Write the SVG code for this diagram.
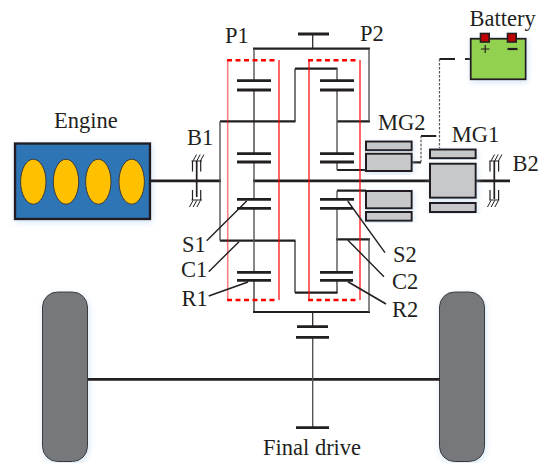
<svg xmlns="http://www.w3.org/2000/svg" width="544" height="463" viewBox="0 0 544 463">
<defs>
<filter id="glow" x="-20%" y="-20%" width="140%" height="140%"><feDropShadow dx="1" dy="2" stdDeviation="3" flood-color="#9dc3e6" flood-opacity="0.45"/></filter>
</defs>
<style>
text{font-family:"Liberation Serif","Times New Roman",serif;font-size:22.5px;fill:#231f20}
.s{fill:none;stroke:#231f20;stroke-width:2.2}
.g{fill:none;stroke:#231f20;stroke-width:2.8}
.t{fill:none;stroke:#231f20;stroke-width:1.2}
.b{fill:none;stroke:#231f20;stroke-width:1}
.c{fill:none;stroke:#231f20;stroke-width:1.7}
.m{fill:none;stroke:#555;stroke-width:1.4}
.red{fill:none;stroke:#f00;stroke-width:1.2}
.redd{fill:none;stroke:#f00;stroke-width:2.4;stroke-dasharray:5 3.5}
.motor{fill:#c7c8ca;stroke:#231f20;stroke-width:2}
.wheel{fill:#77787b;stroke:#3a3a3c;stroke-width:1;filter:url(#glow)}
.d{fill:none;stroke:#555;stroke-width:1.2;stroke-dasharray:2.5 1.5}
.l{fill:none;stroke:#231f20;stroke-width:1.4}
</style>
<rect width="544" height="463" fill="#fff"/>
<g id="wheels">
<rect id="wheel-left" class="wheel" x="42.5" y="292" width="45" height="169.5" rx="15"/>
<rect id="wheel-right" class="wheel" x="439.5" y="292" width="45" height="169.5" rx="15"/>
</g>
<g id="engine">
<rect x="15" y="143.5" width="135" height="75.5" fill="#2e75b6" stroke="#231f20" stroke-width="2.4" filter="url(#glow)"/>
<g fill="#ffc000" stroke="#3a3a3c" stroke-width="1">
<ellipse cx="33.3" cy="181.7" rx="12.7" ry="22.5"/>
<ellipse cx="66" cy="181.7" rx="12.7" ry="22.5"/>
<ellipse cx="98.3" cy="181.7" rx="12.7" ry="22.5"/>
<ellipse cx="131.7" cy="181.7" rx="12.7" ry="22.5"/>
</g>
<text x="54" y="128">Engine</text>
</g>
<g id="connectors">
<path class="g" d="M150 180.8H221M253 180.8H510M88 379.3H440"/>
<path class="s" d="M253 48.7H370M295 68.7H337.5M220 121.3H295.5M337 121.3H370M337 170H366M337 190.7H366M220 240.7H295.5M336 239.3H370M295 292.7H337.5M253 312H370"/>
<path class="m" d="M254 48.7V80.7M254 162V180.8M254 180.8V199M254 208V272M369 48.7V121.3M369 239.3V312M337 68.7V80M337 90V153.7M337 162V170M337 190.7V199M337 208V272M220 121.3V240.7"/>
<path class="t" d="M254 90V153.7M295 68.7V121.3M295 240.7V292.7M337 280V292.7M254 280V312M312.7 34V48.7M312.7 312V326.7"/>
<path class="m" d="M312.7 337.3V427.7"/>
<path class="g" d="M298 34H329M237 80.7H271M237 90H271M320 80.7H354M320 90H354M237 153.7H271M237 162H271M320 153.7H354M320 162H354M237 199.3H271M237 208.3H271M320 199.3H354M320 208.3H353M237 272.3H271M237 280.4H271M320 272.3H353M320 280.4H353M297 326.7H328M296 337.3H329M296 427.7H329"/>
<path class="red" d="M279 60V300M309 60V300M360 60V300"/>
<path class="red" stroke-opacity="0.5" style="stroke-width:1.6" d="M227.7 60V300"/>
<path class="redd" d="M227 60.3H276M308 60.3H357M227 300H276M308 300H357"/>
<path class="l" d="M206.7 240.7L246.7 201M208.7 271.7L239 241.7M347.7 201L385 252.7M347.7 240L384 276.7"/>
<path class="c" d="M208.7 296L248 282M348 281.7L386 304"/>
<path class="s" d="M470.5 59H465M455 59H439.5M411.7 162.3H421M421 136H436.3"/>
<path class="d" d="M439.5 59V148.3M421 162.3V136"/>
</g>
<g id="brake-b1">
<path class="c" d="M196.7 161V197"/>
<path class="t" d="M192.5 161V171.5M200.7 161V171.5M192.5 190V200M200.7 190V200M191.5 161H202M191.5 200H202"/>
<path class="b" d="M193 161L196.5 154.5M196.7 161L200.2 154.5M200.4 161L203.9 154.5M189.5 207L193 200.5M193.2 207L196.7 200.5M196.9 207L200.4 200.5"/>
<text x="187" y="145">B1</text>
</g>
<g id="brake-b2">
<path class="c" d="M494.3 161V199"/>
<path class="t" d="M490 161V171.5M498.6 161V171.5M490 190V200M498.6 190V200M489.3 161H499.3M489.3 200H499.3"/>
<path class="b" d="M491 161L494.5 154.5M494.7 161L498.2 154.5M498.4 161L501.9 154.5M487.5 207L491 200.5M491.2 207L494.7 200.5M494.9 207L498.4 200.5"/>
<text x="512.5" y="170.7">B2</text>
</g>
<g id="mg2">
<rect class="motor" x="366" y="141.5" width="45.7" height="8.7" filter="url(#glow)"/>
<rect class="motor" x="366" y="153.7" width="45.7" height="17.3" filter="url(#glow)"/>
<rect class="motor" x="366" y="191" width="45.7" height="17.3" filter="url(#glow)"/>
<rect class="motor" x="366" y="212" width="45.7" height="8.7" filter="url(#glow)"/>
<text x="378" y="130">MG2</text>
</g>
<g id="mg1">
<rect class="motor" x="430" y="149.5" width="45.7" height="8.7" filter="url(#glow)"/>
<rect class="motor" x="430" y="163.7" width="45.7" height="34" filter="url(#glow)"/>
<rect class="motor" x="430" y="203" width="45.7" height="9" filter="url(#glow)"/>
<text x="451.7" y="141.7">MG1</text>
</g>
<g id="battery">
<rect x="470.7" y="38.7" width="55" height="40.6" fill="#92d050" stroke="#231f20" stroke-width="1.8" filter="url(#glow)"/>
<rect x="480.5" y="33.5" width="8.7" height="8.5" fill="#c00000" stroke="#231f20" stroke-width="1.6"/>
<rect x="507.5" y="33.5" width="8.7" height="8.5" fill="#c00000" stroke="#231f20" stroke-width="1.6"/>
<path class="t" d="M481 49H489.5M485.2 45V53"/>
<path class="s" d="M507.5 49H517.5"/>
<text x="469.5" y="26">Battery</text>
</g>
<g id="labels">
<text x="225" y="42.7">P1</text>
<text x="360" y="40.7">P2</text>
<text x="182" y="252">S1</text>
<text x="181" y="276.7">C1</text>
<text x="181.5" y="306">R1</text>
<text x="393" y="261.7">S2</text>
<text x="392" y="289">C2</text>
<text x="392" y="316.7">R2</text>
<text x="263" y="455">Final drive</text>
</g>
</svg>
